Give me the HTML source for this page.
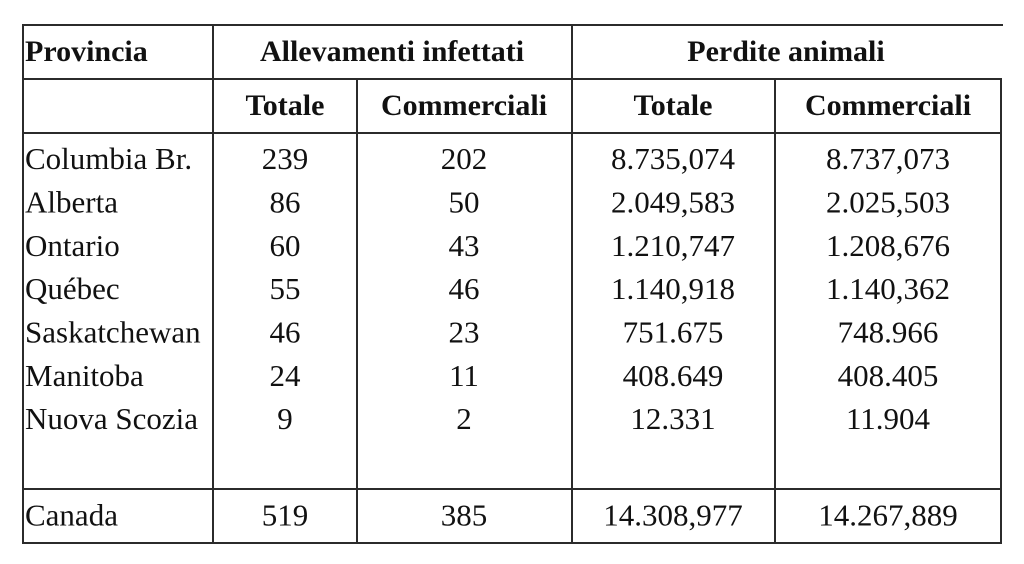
<!DOCTYPE html>
<html>
<head>
<meta charset="utf-8">
<style>
  html, body { margin: 0; padding: 0; background: #fff; }
  body { width: 1024px; height: 564px; overflow: hidden; }
  svg { display: block; }
  text { font-family: "Liberation Serif", "DejaVu Serif", serif; fill: #111; }
  .h { font-weight: bold; font-size: 30px; }
  .d { font-size: 31px; }
</style>
</head>
<body>
<svg width="1024" height="564" viewBox="0 0 1024 564" xmlns="http://www.w3.org/2000/svg">
  <rect x="0" y="0" width="1024" height="564" fill="#fff"/>
  <g stroke="#2b2b2b" stroke-width="2" fill="none">
    <line x1="22" y1="25" x2="1003" y2="25"/>
    <line x1="22" y1="79" x2="1002" y2="79"/>
    <line x1="22" y1="133" x2="1002" y2="133"/>
    <line x1="22" y1="489" x2="1002" y2="489"/>
    <line x1="22" y1="543" x2="1002" y2="543"/>
    <line x1="23" y1="24" x2="23" y2="544"/>
    <line x1="213" y1="24" x2="213" y2="544"/>
    <line x1="357" y1="79" x2="357" y2="544"/>
    <line x1="572" y1="24" x2="572" y2="544"/>
    <line x1="775" y1="79" x2="775" y2="544"/>
    <line x1="1001" y1="78" x2="1001" y2="544"/>
  </g>

  <!-- header row 1 -->
  <text class="h" x="25" y="61">Provincia</text>
  <text class="h" x="392" y="61" text-anchor="middle">Allevamenti infettati</text>
  <text class="h" x="786" y="61" text-anchor="middle">Perdite animali</text>

  <!-- header row 2 -->
  <text class="h" x="285" y="115" text-anchor="middle">Totale</text>
  <text class="h" x="464" y="115" text-anchor="middle">Commerciali</text>
  <text class="h" x="673" y="115" text-anchor="middle">Totale</text>
  <text class="h" x="888" y="115" text-anchor="middle">Commerciali</text>

  <!-- data rows -->
  <g class="d">
    <text class="d" x="25" y="169">Columbia Br.</text>
    <text class="d" x="285" y="169" text-anchor="middle">239</text>
    <text class="d" x="464" y="169" text-anchor="middle">202</text>
    <text class="d" x="673" y="169" text-anchor="middle">8.735,074</text>
    <text class="d" x="888" y="169" text-anchor="middle">8.737,073</text>

    <text class="d" x="25" y="212.5">Alberta</text>
    <text class="d" x="285" y="212.5" text-anchor="middle">86</text>
    <text class="d" x="464" y="212.5" text-anchor="middle">50</text>
    <text class="d" x="673" y="212.5" text-anchor="middle">2.049,583</text>
    <text class="d" x="888" y="212.5" text-anchor="middle">2.025,503</text>

    <text class="d" x="25" y="255.8">Ontario</text>
    <text class="d" x="285" y="255.8" text-anchor="middle">60</text>
    <text class="d" x="464" y="255.8" text-anchor="middle">43</text>
    <text class="d" x="673" y="255.8" text-anchor="middle">1.210,747</text>
    <text class="d" x="888" y="255.8" text-anchor="middle">1.208,676</text>

    <text class="d" x="25" y="299">Québec</text>
    <text class="d" x="285" y="299" text-anchor="middle">55</text>
    <text class="d" x="464" y="299" text-anchor="middle">46</text>
    <text class="d" x="673" y="299" text-anchor="middle">1.140,918</text>
    <text class="d" x="888" y="299" text-anchor="middle">1.140,362</text>

    <text class="d" x="25" y="342.5">Saskatchewan</text>
    <text class="d" x="285" y="342.5" text-anchor="middle">46</text>
    <text class="d" x="464" y="342.5" text-anchor="middle">23</text>
    <text class="d" x="673" y="342.5" text-anchor="middle">751.675</text>
    <text class="d" x="888" y="342.5" text-anchor="middle">748.966</text>

    <text class="d" x="25" y="385.8">Manitoba</text>
    <text class="d" x="285" y="385.8" text-anchor="middle">24</text>
    <text class="d" x="464" y="385.8" text-anchor="middle">11</text>
    <text class="d" x="673" y="385.8" text-anchor="middle">408.649</text>
    <text class="d" x="888" y="385.8" text-anchor="middle">408.405</text>

    <text class="d" x="25" y="429.2">Nuova Scozia</text>
    <text class="d" x="285" y="429.2" text-anchor="middle">9</text>
    <text class="d" x="464" y="429.2" text-anchor="middle">2</text>
    <text class="d" x="673" y="429.2" text-anchor="middle">12.331</text>
    <text class="d" x="888" y="429.2" text-anchor="middle">11.904</text>

    <text class="d" x="25" y="525.5">Canada</text>
    <text class="d" x="285" y="525.5" text-anchor="middle">519</text>
    <text class="d" x="464" y="525.5" text-anchor="middle">385</text>
    <text class="d" x="673" y="525.5" text-anchor="middle">14.308,977</text>
    <text class="d" x="888" y="525.5" text-anchor="middle">14.267,889</text>
  </g>
</svg>
</body>
</html>
